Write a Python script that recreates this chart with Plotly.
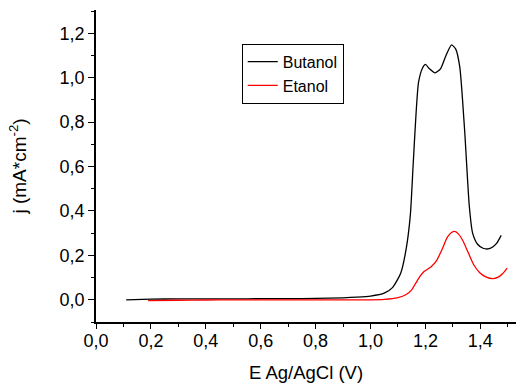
import plotly.graph_objects as go

butanol_x = [0.11, 0.2, 0.3, 0.4, 0.5, 0.6, 0.7, 0.8, 0.9, 0.95, 1.0, 1.05, 1.08, 1.11, 1.13, 1.145,
             1.155, 1.165, 1.175, 1.19, 1.20, 1.215, 1.235, 1.255, 1.275, 1.295, 1.31, 1.325, 1.343,
             1.36, 1.372, 1.39, 1.41, 1.428, 1.445, 1.46, 1.476]
butanol_y = [0.000, 0.003, 0.004, 0.004, 0.004, 0.005, 0.005, 0.006, 0.009, 0.012, 0.017, 0.030, 0.055,
             0.120, 0.230, 0.380, 0.600, 0.820, 0.980, 1.045, 1.060, 1.040, 1.022, 1.040, 1.100, 1.148,
             1.130, 1.050, 0.760, 0.420, 0.300, 0.250, 0.232, 0.229, 0.238, 0.255, 0.290]

etanol_x = [0.19, 0.3, 0.4, 0.5, 0.6, 0.7, 0.8, 0.9, 1.0, 1.05, 1.1, 1.13, 1.15, 1.165, 1.18, 1.195,
            1.22, 1.24, 1.26, 1.28, 1.295, 1.307, 1.32, 1.337, 1.355, 1.375, 1.397, 1.42, 1.446,
            1.465, 1.48, 1.498]
etanol_y = [-0.004, -0.002, -0.001, 0.000, 0.000, 0.000, 0.000, 0.000, 0.000, 0.002, 0.010, 0.024,
            0.045, 0.075, 0.105, 0.127, 0.148, 0.175, 0.225, 0.282, 0.303, 0.308, 0.297, 0.265,
            0.215, 0.160, 0.123, 0.103, 0.095, 0.102, 0.116, 0.143]

x_ticks = [0.0, 0.2, 0.4, 0.6, 0.8, 1.0, 1.2, 1.4]
x_ticklabels = ["0,0", "0,2", "0,4", "0,6", "0,8", "1,0", "1,2", "1,4"]
y_ticks = [0.0, 0.2, 0.4, 0.6, 0.8, 1.0, 1.2]
y_ticklabels = ["0,0", "0,2", "0,4", "0,6", "0,8", "1,0", "1,2"]

FONT = "Liberation Sans, Arial, sans-serif"

fig = go.Figure()
fig.add_trace(go.Scatter(x=butanol_x, y=butanol_y, mode="lines", name="Butanol",
                         line=dict(color="black", width=1.3, shape="spline", smoothing=0.6)))
fig.add_trace(go.Scatter(x=etanol_x, y=etanol_y, mode="lines", name="Etanol",
                         line=dict(color="red", width=1.3, shape="spline", smoothing=0.6)))

axis_common = dict(showgrid=False, zeroline=False, showline=True, linecolor="black", linewidth=1.5,
                   ticks="outside", tickwidth=1.3, tickcolor="black",
                   tickfont=dict(family=FONT, size=18, color="black"))

fig.update_xaxes(range=[0, 1.53], tickvals=x_ticks, ticktext=x_ticklabels, ticklen=5,
                 ticklabelstandoff=-3,
                 minor=dict(dtick=0.1, ticks="outside", ticklen=3, tickwidth=1.2, tickcolor="black"),
                 title=dict(text="E Ag/AgCl (V)", font=dict(family=FONT, size=18.5, color="black"), standoff=16),
                 **axis_common)
fig.update_yaxes(range=[-0.1, 1.305], tickvals=y_ticks, ticktext=y_ticklabels, ticklen=6,
                 minor=dict(dtick=0.1, ticks="outside", ticklen=3, tickwidth=1.2, tickcolor="black"),
                 title=dict(text="j (mA*cm<sup>-2</sup>)", font=dict(family=FONT, size=19, color="black"), standoff=28),
                 **axis_common)

fig.update_layout(
    width=516, height=385,
    margin=dict(l=96, r=0, t=10, b=63),
    paper_bgcolor="white", plot_bgcolor="white",
    showlegend=True,
    legend=dict(x=0.347, y=0.892, xanchor="left", yanchor="top",
                bordercolor="black", borderwidth=1, bgcolor="white",
                font=dict(family=FONT, size=16, color="black"),
                tracegroupgap=0, itemwidth=30),
)

fig.write_html("out.html")
